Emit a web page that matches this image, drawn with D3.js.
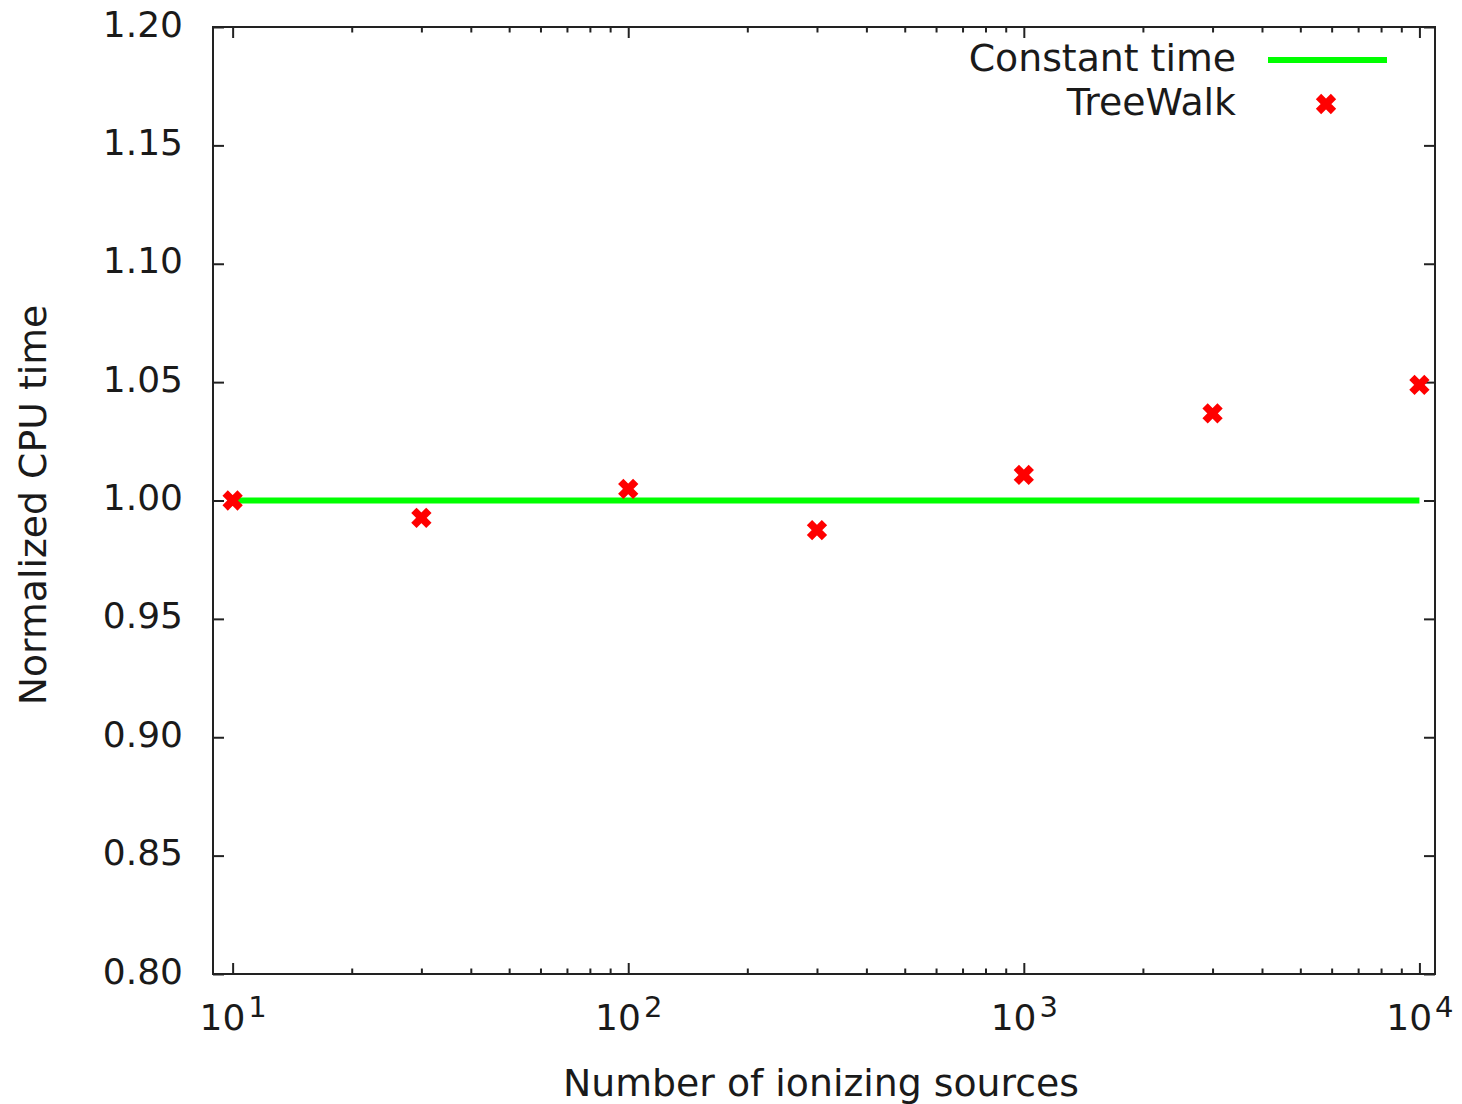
<!DOCTYPE html>
<html>
<head>
<meta charset="utf-8">
<script src="https://cdn.jsdelivr.net/npm/d3@7"></script>
<style>
  html, body { margin: 0; padding: 0; background: #fff; }
  svg { display: block; }
  text { font-family: "DejaVu Sans", Verdana, sans-serif; fill: #1a1a1a; }
</style>
</head>
<body>
<svg id="chart" width="1462" height="1104"></svg>
<script>
// Number of ionizing sources and normalized CPU time of the TreeWalk run
const sources = [10, 30, 100, 300, 1000, 3000, 10000];
const treeWalk = [1.000, 0.9927, 1.0049, 0.9875, 1.0108, 1.0368, 1.0488];
// Reference level: constant cost regardless of source count
const constantX = [10, 10000];
const constantY = [1.0, 1.0];

const yTicks = [0.80, 0.85, 0.90, 0.95, 1.00, 1.05, 1.10, 1.15, 1.20];
const xMajor = [10, 100, 1000, 10000];
const xMinor = [20, 30, 40, 50, 60, 70, 80, 90,
                200, 300, 400, 500, 600, 700, 800, 900,
                2000, 3000, 4000, 5000, 6000, 7000, 8000, 9000];

const seriesNames = ["Constant time", "TreeWalk"];
const xTitle = "Number of ionizing sources";
const yTitle = "Normalized CPU time";

const svg = d3.select("#chart");
const plot = { left: 213, right: 1435, top: 27, bottom: 974 };

const x = d3.scaleLog().domain([8.92, 10950]).range([plot.left, plot.right]);
const y = d3.scaleLinear().domain([0.80, 1.20]).range([plot.bottom, plot.top]);

const axisColor = "#222";
const majorLen = 11, minorLen = 5.5;
const labelSize = 37.8;

function styleAxis(g) {
  g.select(".domain").remove();
  g.selectAll("line").attr("stroke", axisColor).attr("stroke-width", 2);
}

// bottom axis: minor then major ticks (inward)
svg.append("g").attr("transform", `translate(0,${plot.bottom})`)
  .call(d3.axisBottom(x).tickValues(xMinor).tickSize(-minorLen).tickFormat(""))
  .call(styleAxis);
const xb = svg.append("g").attr("transform", `translate(0,${plot.bottom})`)
  .call(d3.axisBottom(x).tickValues(xMajor).tickSize(-majorLen).tickPadding(30)
    .tickFormat(d => ""))
  .call(styleAxis);
xb.selectAll(".tick text")
  .attr("font-size", 36)
  .attr("fill", "#1a1a1a")
  .each(function(d) {
    const t = d3.select(this);
    t.text("10");
    t.append("tspan").attr("dx", 3).attr("dy", -13).attr("font-size", 29)
      .text(Math.round(Math.log10(d)));
  });

// top axis mirror ticks
svg.append("g").attr("transform", `translate(0,${plot.top})`)
  .call(d3.axisTop(x).tickValues(xMinor).tickSize(-minorLen).tickFormat(""))
  .call(styleAxis);
svg.append("g").attr("transform", `translate(0,${plot.top})`)
  .call(d3.axisTop(x).tickValues(xMajor).tickSize(-majorLen).tickFormat(""))
  .call(styleAxis);

// left axis
const yl = svg.append("g").attr("transform", `translate(${plot.left},0)`)
  .call(d3.axisLeft(y).tickValues(yTicks).tickSize(-majorLen).tickPadding(30)
    .tickFormat(d3.format(".2f")))
  .call(styleAxis);
yl.selectAll(".tick text").attr("font-size", 36).attr("fill", "#1a1a1a")
  .attr("dy", "0.25em");

// right axis mirror ticks
svg.append("g").attr("transform", `translate(${plot.right},0)`)
  .call(d3.axisRight(y).tickValues(yTicks).tickSize(-majorLen).tickFormat(""))
  .call(styleAxis);

// frame
svg.append("rect")
  .attr("x", plot.left).attr("y", plot.top)
  .attr("width", plot.right - plot.left).attr("height", plot.bottom - plot.top)
  .attr("fill", "none").attr("stroke", axisColor).attr("stroke-width", 2);

// constant-time line
const line = d3.line().x(d => x(d[0])).y(d => y(d[1]));
svg.append("path")
  .datum(d3.zip(constantX, constantY))
  .attr("d", line)
  .attr("fill", "none").attr("stroke", "#00ff00").attr("stroke-width", 6);

// cross markers
const cross = "M-7.5,-7.5L7.5,7.5M-7.5,7.5L7.5,-7.5";
const crossWidth = 7.5;
svg.append("g").selectAll("path")
  .data(d3.zip(sources, treeWalk))
  .join("path")
  .attr("transform", d => `translate(${x(d[0])},${y(d[1])})`)
  .attr("d", cross)
  .attr("stroke", "#ff0000").attr("stroke-width", crossWidth).attr("fill", "none");

// legend
const legend = svg.append("g");
legend.append("text").attr("x", 1236).attr("y", 71).attr("text-anchor", "end")
  .attr("font-size", labelSize).text(seriesNames[0]);
legend.append("line").attr("x1", 1268).attr("x2", 1387).attr("y1", 60).attr("y2", 60)
  .attr("stroke", "#00ff00").attr("stroke-width", 6);
legend.append("text").attr("x", 1236).attr("y", 115).attr("text-anchor", "end")
  .attr("font-size", labelSize).text(seriesNames[1]);
legend.append("path").attr("transform", "translate(1326,104)").attr("d", cross)
  .attr("stroke", "#ff0000").attr("stroke-width", crossWidth).attr("fill", "none");

// axis titles
svg.append("text").attr("x", 821).attr("y", 1096).attr("text-anchor", "middle")
  .attr("font-size", labelSize).text(xTitle);
svg.append("text")
  .attr("transform", `translate(46,${505}) rotate(-90)`)
  .attr("text-anchor", "middle").attr("font-size", labelSize).text(yTitle);
</script>
</body>
</html>
